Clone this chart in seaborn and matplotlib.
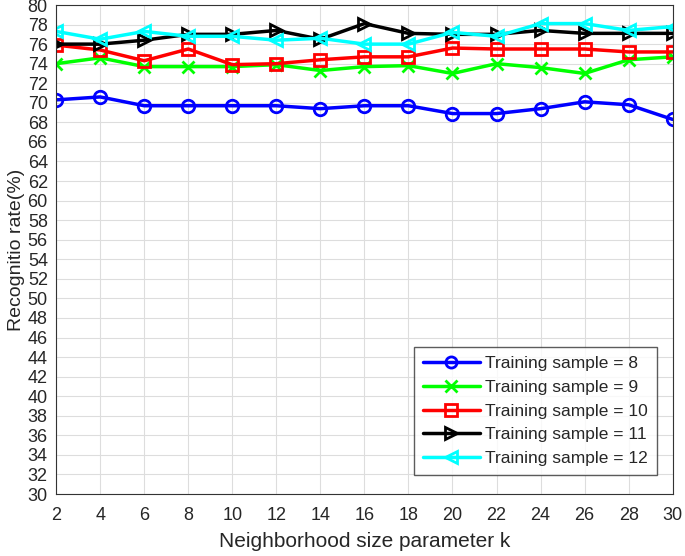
import numpy as np
import pandas as pd
import seaborn as sns
import matplotlib.pyplot as plt

# data
k = [2, 4, 6, 8, 10, 12, 14, 16, 18, 20, 22, 24, 26, 28, 30]
s8 = [70.3, 70.6, 69.7, 69.7, 69.7, 69.7, 69.4, 69.7, 69.7, 68.9, 68.9, 69.4, 70.1, 69.8, 68.3]
s9 = [74.0, 74.6, 73.7, 73.7, 73.7, 73.9, 73.3, 73.7, 73.8, 73.0, 74.0, 73.6, 73.0, 74.4, 74.7]
s10 = [75.9, 75.4, 74.3, 75.5, 73.9, 74.0, 74.4, 74.7, 74.7, 75.6, 75.5, 75.5, 75.5, 75.2, 75.2]
s11 = [76.0, 76.0, 76.4, 77.0, 77.0, 77.4, 76.5, 78.1, 77.1, 77.0, 77.0, 77.4, 77.1, 77.1, 77.1]
s12 = [77.3, 76.5, 77.3, 76.8, 76.8, 76.4, 76.6, 76.0, 76.0, 77.2, 76.8, 78.1, 78.1, 77.4, 77.8]

labels = ['Training sample = 8', 'Training sample = 9', 'Training sample = 10',
          'Training sample = 11', 'Training sample = 12']
colors = ['#0000ff', '#00ff00', '#ff0000', '#000000', '#00ffff']
markers = ['o', 'x', 's', '>', '<']

sns.set_style('white')
plt.rcParams['font.family'] = ['Liberation Sans', 'DejaVu Sans']

fig = plt.figure(figsize=(6.85, 5.56), dpi=100)
ax = fig.add_axes([0.082, 0.1115, 0.900, 0.8795])

for vals, lab, c, m in zip([s8, s9, s10, s11, s12], labels, colors, markers):
    sns.lineplot(x=k, y=vals, color=c, marker=m, linewidth=2.5, markersize=9,
                 markerfacecolor='none', markeredgecolor=c, markeredgewidth=2,
                 label=lab, ax=ax, legend=False)

ax.set_xlim(2, 30)
ax.set_ylim(30, 80)
ax.set_xticks(range(2, 31, 2))
ax.set_yticks(range(30, 81, 2))
ax.tick_params(direction='in', labelsize=13, length=5, color='#333333')
ax.tick_params(axis='x', pad=9)
ax.tick_params(axis='y', pad=6)
ax.grid(True, color='#dddddd', linewidth=0.8)
for sp in ax.spines.values():
    sp.set_color('#333333')
    sp.set_linewidth(0.8)
ax.set_xlabel('Neighborhood size parameter k', fontsize=15, labelpad=6)
ax.set_ylabel('Recognitio rate(%)', fontsize=14, labelpad=2)

handles = [plt.Line2D([], [], color=c, marker=m, lw=2.5, ms=8, mfc='none', mew=2)
           for c, m in zip(colors, markers)]
leg = ax.legend(handles, labels, loc='lower right', bbox_to_anchor=(0.974, 0.039),
                borderaxespad=0, fontsize=12.5, frameon=True, fancybox=False,
                edgecolor='#333333', handlelength=3.3, borderpad=0.5,
                labelspacing=0.5, handletextpad=0.3)
leg.get_frame().set_linewidth(1)

fig.savefig('out.png', dpi=100)
